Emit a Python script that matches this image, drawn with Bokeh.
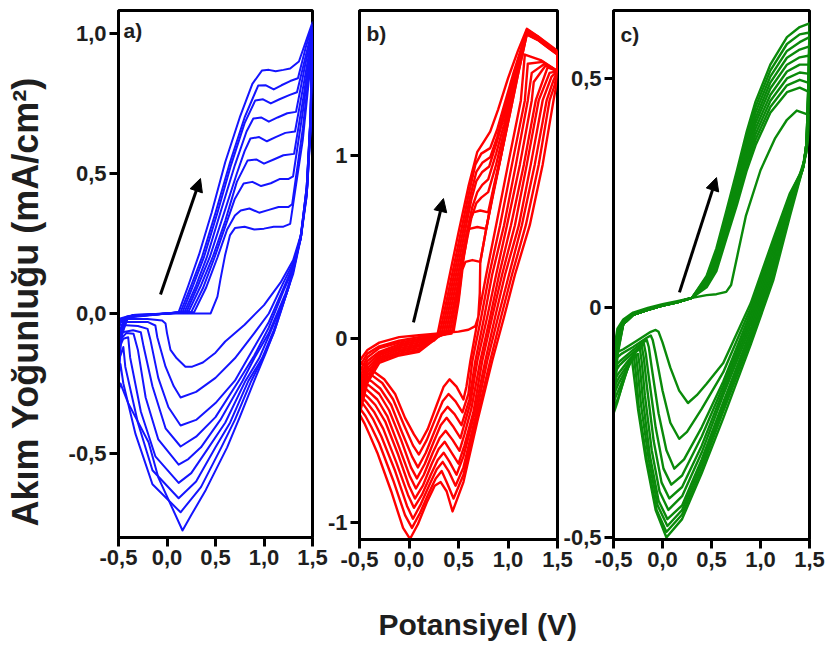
import math
from bokeh.plotting import figure
from bokeh.layouts import row
from bokeh.models import Range1d, FixedTicker, Label, Arrow, NormalHead, Title
from bokeh.embed import file_html
from bokeh.resources import INLINE

FONT = "Liberation Sans"

# ---- tick labels / texts ----
x_ticks = [-0.5, 0.0, 0.5, 1.0, 1.5]
x_tick_labels = ["-0,5", "0,0", "0,5", "1,0", "1,5"]
a_y_ticks = [-0.5, 0.0, 0.5, 1.0]
a_y_tick_labels = ["-0,5", "0,0", "0,5", "1,0"]
b_y_ticks = [-1.0, 0.0, 1.0]
b_y_tick_labels = ["-1", "0", "1"]
c_y_ticks = [-0.5, 0.0, 0.5]
c_y_tick_labels = ["-0,5", "0", "0,5"]
panel_letters = ["a)", "b)", "c)"]
y_title = "Akım Yoğunluğu (mA/cm²)"
x_title = "Potansiyel (V)"

# ---- panel a (blue): cycles of (potential V, current mA/cm2) ----
cv_a = [
    [(-0.5,-0.02),(-0.4,-0.01),(0.0,0.0),(0.45,0.0),(0.52,0.06),(0.55,0.12),(0.6,0.21),(0.65,0.28),(0.7,0.305),(0.8,0.31),(0.9,0.3),(1.0,0.303),(1.1,0.31),(1.2,0.31),(1.27,0.32),(1.4,0.62),(1.5,0.96),
     (1.48,0.65),(1.44,0.42),(1.38,0.28),(1.3,0.19),(1.17,0.11),(1.0,0.03),(0.8,-0.04),(0.6,-0.1),(0.5,-0.14),(0.37,-0.175),(0.26,-0.19),(0.19,-0.19),(0.1,-0.16),(0.036,-0.13),(0.0,-0.07),(-0.015,-0.036),(-0.05,-0.025),(-0.2,-0.02),(-0.5,-0.02)],
    [(-0.5,-0.03),(-0.42,-0.012),(0.0,0.0),(0.28,0.005),(0.4,0.09),(0.52,0.2),(0.62,0.3),(0.7,0.35),(0.76,0.368),(0.85,0.375),(0.95,0.36),(1.05,0.37),(1.15,0.38),(1.25,0.38),(1.29,0.39),(1.4,0.66),(1.5,0.97),
     (1.48,0.66),(1.44,0.42),(1.38,0.27),(1.3,0.18),(1.2,0.11),(1.05,0.0),(0.9,-0.07),(0.7,-0.16),(0.5,-0.23),(0.3,-0.28),(0.14,-0.3),(0.07,-0.26),(-0.015,-0.19),(-0.1,-0.085),(-0.12,-0.043),(-0.2,-0.03),(-0.5,-0.03)],
    [(-0.5,-0.04),(-0.42,-0.013),(0.0,0.0),(0.25,0.005),(0.37,0.09),(0.49,0.2),(0.6,0.31),(0.7,0.41),(0.79,0.464),(0.88,0.47),(0.97,0.455),(1.07,0.465),(1.16,0.48),(1.25,0.48),(1.3,0.49),(1.4,0.72),(1.5,0.98),
     (1.48,0.67),(1.44,0.43),(1.38,0.27),(1.3,0.17),(1.2,0.09),(1.05,-0.03),(0.9,-0.12),(0.7,-0.24),(0.5,-0.32),(0.3,-0.38),(0.14,-0.4),(0.015,-0.335),(-0.09,-0.23),(-0.17,-0.096),(-0.2,-0.055),(-0.3,-0.045),(-0.5,-0.04)],
    [(-0.5,-0.07),(-0.44,-0.02),(-0.35,-0.005),(0.0,0.0),(0.22,0.005),(0.35,0.1),(0.47,0.2),(0.6,0.33),(0.72,0.47),(0.83,0.546),(0.92,0.55),(1.0,0.535),(1.1,0.55),(1.2,0.565),(1.31,0.57),(1.41,0.78),(1.5,0.99),
     (1.48,0.68),(1.44,0.44),(1.38,0.27),(1.3,0.16),(1.2,0.08),(1.05,-0.05),(0.9,-0.15),(0.74,-0.24),(0.5,-0.37),(0.3,-0.44),(0.14,-0.475),(-0.015,-0.41),(-0.15,-0.26),(-0.24,-0.12),(-0.27,-0.067),(-0.35,-0.06),(-0.5,-0.07)],
    [(-0.5,-0.1),(-0.45,-0.03),(-0.35,-0.005),(0.0,0.0),(0.2,0.005),(0.32,0.1),(0.44,0.2),(0.58,0.35),(0.72,0.5),(0.8,0.58),(0.86,0.625),(0.95,0.63),(1.03,0.615),(1.12,0.63),(1.22,0.645),(1.32,0.65),(1.42,0.84),(1.5,1.0),
     (1.48,0.69),(1.44,0.44),(1.38,0.27),(1.3,0.15),(1.22,0.07),(1.05,-0.07),(0.9,-0.16),(0.78,-0.24),(0.55,-0.38),(0.35,-0.478),(0.22,-0.52),(0.12,-0.54),(-0.09,-0.45),(-0.22,-0.3),(-0.3,-0.13),(-0.345,-0.072),(-0.42,-0.07),(-0.5,-0.1)],
    [(-0.5,-0.13),(-0.46,-0.04),(-0.38,-0.008),(0.0,0.0),(0.18,0.005),(0.3,0.1),(0.41,0.2),(0.55,0.36),(0.7,0.53),(0.82,0.65),(0.89,0.696),(0.97,0.7),(1.05,0.685),(1.14,0.7),(1.24,0.715),(1.33,0.72),(1.42,0.88),(1.5,1.01),
     (1.48,0.7),(1.44,0.45),(1.38,0.27),(1.3,0.14),(1.23,0.07),(1.05,-0.08),(0.95,-0.16),(0.81,-0.24),(0.6,-0.39),(0.43,-0.478),(0.25,-0.57),(0.12,-0.605),(-0.12,-0.51),(-0.27,-0.35),(-0.38,-0.157),(-0.4,-0.085),(-0.45,-0.09),(-0.5,-0.13)],
    [(-0.5,-0.17),(-0.47,-0.06),(-0.4,-0.01),(0.0,0.0),(0.16,0.005),(0.27,0.1),(0.38,0.2),(0.52,0.36),(0.66,0.53),(0.8,0.68),(0.91,0.761),(0.99,0.765),(1.07,0.75),(1.16,0.765),(1.26,0.78),(1.34,0.79),(1.43,0.92),(1.5,1.02),
     (1.48,0.7),(1.44,0.45),(1.38,0.28),(1.3,0.15),(1.24,0.08),(1.1,-0.06),(0.98,-0.16),(0.84,-0.24),(0.65,-0.39),(0.5,-0.478),(0.3,-0.6),(0.12,-0.66),(-0.15,-0.56),(-0.3,-0.39),(-0.43,-0.19),(-0.45,-0.12),(-0.5,-0.17)],
    [(-0.5,-0.22),(-0.47,-0.08),(-0.4,-0.012),(0.0,0.0),(0.14,0.005),(0.25,0.1),(0.36,0.2),(0.5,0.36),(0.65,0.54),(0.8,0.7),(0.94,0.814),(1.02,0.815),(1.1,0.8),(1.18,0.815),(1.27,0.83),(1.35,0.84),(1.43,0.95),(1.5,1.03),
     (1.48,0.71),(1.44,0.45),(1.38,0.28),(1.3,0.16),(1.25,0.09),(1.1,-0.07),(1.0,-0.15),(0.87,-0.24),(0.7,-0.38),(0.56,-0.478),(0.35,-0.62),(0.14,-0.71),(-0.15,-0.61),(-0.325,-0.43),(-0.45,-0.25),(-0.48,-0.18),(-0.5,-0.22)],
    [(-0.5,-0.28),(-0.48,-0.1),(-0.42,-0.015),(0.0,0.0),(0.12,0.005),(0.22,0.1),(0.33,0.21),(0.46,0.36),(0.6,0.54),(0.75,0.7),(0.88,0.82),(0.98,0.868),(1.05,0.87),(1.12,0.865),(1.2,0.87),(1.27,0.875),(1.36,0.9),(1.44,0.98),(1.5,1.04),
     (1.48,0.72),(1.45,0.46),(1.38,0.28),(1.31,0.17),(1.26,0.1),(1.12,-0.05),(1.02,-0.14),(0.9,-0.24),(0.75,-0.37),(0.62,-0.478),(0.4,-0.63),(0.25,-0.72),(0.16,-0.775),(-0.09,-0.585),(-0.19,-0.46),(-0.4,-0.32),(-0.48,-0.25),(-0.5,-0.28)],
]

# ---- panel b (red) ----
cv_b = [
    [(-0.5,-0.12),(-0.42,-0.06),(-0.3,-0.02),(-0.1,0.01),(0.1,0.02),(0.3,0.03),(0.5,0.04),(0.6,0.05),(0.67,0.07),(0.7,0.12),(0.715,0.25),(0.72,0.42),(0.78,0.6),(0.85,0.8),(0.95,1.05),(1.02,1.23),(1.1,1.44),(1.19,1.66),(1.3,1.63),(1.4,1.59),(1.5,1.55),
     (1.5,1.46),(1.33,1.52),(1.17,1.55),(1.13,1.3),(1.0,0.95),(0.88,0.62),(0.78,0.35),(0.7,0.12),(0.62,-0.12),(0.58,-0.26),(0.55,-0.33),(0.48,-0.26),(0.41,-0.22),(0.35,-0.26),(0.28,-0.36),(0.19,-0.49),(0.11,-0.57),(0.05,-0.52),(-0.04,-0.43),(-0.14,-0.3),(-0.25,-0.22),(-0.35,-0.18),(-0.44,-0.15),(-0.5,-0.12)],
    [(-0.5,-0.15),(-0.42,-0.08),(-0.3,-0.04),(-0.1,-0.01),(0.1,0.01),(0.3,0.025),(0.45,0.04),(0.5,0.2),(0.54,0.38),(0.57,0.42),(0.64,0.43),(0.72,0.42),(0.78,0.6),(0.85,0.8),(0.95,1.05),(1.02,1.23),(1.1,1.44),(1.19,1.66),(1.3,1.63),(1.4,1.59),(1.5,1.55),
     (1.5,1.46),(1.35,1.51),(1.2,1.5),(1.17,1.3),(1.04,0.95),(0.92,0.62),(0.81,0.35),(0.73,0.12),(0.64,-0.12),(0.6,-0.3),(0.54,-0.4),(0.47,-0.34),(0.4,-0.3),(0.34,-0.34),(0.27,-0.43),(0.18,-0.55),(0.1,-0.63),(0.04,-0.58),(-0.05,-0.47),(-0.16,-0.33),(-0.27,-0.24),(-0.37,-0.2),(-0.45,-0.18),(-0.5,-0.15)],
    [(-0.5,-0.18),(-0.42,-0.1),(-0.3,-0.05),(-0.1,-0.02),(0.1,0.0),(0.3,0.02),(0.43,0.03),(0.5,0.22),(0.55,0.45),(0.58,0.57),(0.61,0.6),(0.69,0.61),(0.78,0.6),(0.84,0.76),(0.92,0.97),(1.0,1.2),(1.1,1.46),(1.19,1.67),(1.3,1.635),(1.4,1.595),(1.5,1.555),
     (1.5,1.46),(1.37,1.5),(1.24,1.45),(1.2,1.3),(1.08,0.95),(0.96,0.62),(0.84,0.35),(0.76,0.12),(0.67,-0.12),(0.61,-0.33),(0.53,-0.47),(0.46,-0.41),(0.39,-0.37),(0.33,-0.41),(0.26,-0.5),(0.17,-0.62),(0.09,-0.7),(0.03,-0.64),(-0.07,-0.51),(-0.18,-0.36),(-0.29,-0.27),(-0.38,-0.23),(-0.45,-0.21),(-0.5,-0.18)],
    [(-0.5,-0.21),(-0.42,-0.12),(-0.3,-0.07),(-0.1,-0.03),(0.1,-0.01),(0.3,0.02),(0.41,0.03),(0.5,0.27),(0.57,0.5),(0.61,0.64),(0.65,0.69),(0.72,0.7),(0.8,0.69),(0.86,0.84),(0.93,1.01),(1.0,1.19),(1.1,1.46),(1.19,1.67),(1.3,1.635),(1.4,1.595),(1.5,1.555),
     (1.5,1.46),(1.38,1.49),(1.26,1.4),(1.24,1.3),(1.12,0.95),(0.99,0.62),(0.88,0.35),(0.79,0.12),(0.69,-0.12),(0.62,-0.35),(0.52,-0.54),(0.45,-0.48),(0.38,-0.43),(0.32,-0.47),(0.25,-0.56),(0.16,-0.68),(0.08,-0.76),(0.02,-0.7),(-0.08,-0.55),(-0.2,-0.39),(-0.3,-0.3),(-0.39,-0.26),(-0.46,-0.23),(-0.5,-0.21)],
    [(-0.5,-0.24),(-0.42,-0.14),(-0.3,-0.08),(-0.1,-0.04),(0.1,-0.02),(0.28,0.01),(0.39,0.03),(0.48,0.26),(0.57,0.5),(0.63,0.66),(0.68,0.74),(0.73,0.77),(0.8,0.8),(0.88,0.95),(0.96,1.13),(1.05,1.36),(1.12,1.52),(1.19,1.675),(1.3,1.64),(1.4,1.6),(1.5,1.56),
     (1.5,1.46),(1.4,1.48),(1.28,1.3),(1.16,0.95),(1.03,0.62),(0.91,0.35),(0.82,0.12),(0.72,-0.12),(0.63,-0.38),(0.56,-0.52),(0.51,-0.61),(0.44,-0.55),(0.37,-0.5),(0.31,-0.54),(0.24,-0.62),(0.15,-0.74),(0.07,-0.815),(0.01,-0.75),(-0.1,-0.59),(-0.22,-0.42),(-0.32,-0.33),(-0.4,-0.29),(-0.46,-0.26),(-0.5,-0.24)],
    [(-0.5,-0.27),(-0.42,-0.16),(-0.3,-0.09),(-0.1,-0.05),(0.1,-0.03),(0.27,0.01),(0.37,0.03),(0.46,0.26),(0.56,0.52),(0.64,0.72),(0.69,0.8),(0.74,0.84),(0.8,0.87),(0.88,1.01),(0.96,1.17),(1.05,1.38),(1.12,1.53),(1.19,1.675),(1.3,1.64),(1.4,1.6),(1.5,1.56),
     (1.5,1.46),(1.42,1.45),(1.31,1.3),(1.19,0.95),(1.07,0.62),(0.94,0.35),(0.84,0.12),(0.74,-0.12),(0.65,-0.4),(0.56,-0.58),(0.5,-0.68),(0.43,-0.62),(0.36,-0.56),(0.3,-0.6),(0.23,-0.68),(0.14,-0.8),(0.06,-0.87),(0.0,-0.8),(-0.11,-0.63),(-0.24,-0.45),(-0.34,-0.36),(-0.41,-0.32),(-0.47,-0.29),(-0.5,-0.27)],
    [(-0.5,-0.3),(-0.42,-0.18),(-0.3,-0.1),(-0.1,-0.06),(0.1,-0.04),(0.26,0.0),(0.35,0.03),(0.44,0.26),(0.54,0.52),(0.63,0.76),(0.68,0.86),(0.74,0.91),(0.81,0.94),(0.88,1.06),(0.96,1.21),(1.05,1.4),(1.12,1.54),(1.19,1.68),(1.3,1.645),(1.4,1.6),(1.5,1.56),
     (1.5,1.46),(1.44,1.43),(1.35,1.3),(1.23,0.95),(1.11,0.62),(0.97,0.35),(0.87,0.12),(0.77,-0.12),(0.66,-0.41),(0.55,-0.64),(0.48,-0.74),(0.41,-0.67),(0.35,-0.62),(0.29,-0.66),(0.22,-0.74),(0.13,-0.85),(0.05,-0.92),(-0.01,-0.85),(-0.13,-0.67),(-0.26,-0.49),(-0.35,-0.4),(-0.42,-0.35),(-0.47,-0.32),(-0.5,-0.3)],
    [(-0.5,-0.33),(-0.42,-0.2),(-0.3,-0.11),(-0.1,-0.07),(0.1,-0.05),(0.25,-0.01),(0.33,0.03),(0.42,0.26),(0.52,0.52),(0.62,0.78),(0.68,0.91),(0.74,0.96),(0.82,0.99),(0.89,1.1),(0.97,1.26),(1.05,1.42),(1.12,1.55),(1.19,1.68),(1.3,1.645),(1.4,1.605),(1.5,1.565),
     (1.5,1.46),(1.46,1.41),(1.39,1.3),(1.27,0.95),(1.14,0.62),(1.01,0.35),(0.9,0.12),(0.79,-0.12),(0.67,-0.43),(0.55,-0.7),(0.47,-0.8),(0.4,-0.72),(0.34,-0.67),(0.28,-0.71),(0.21,-0.79),(0.12,-0.9),(0.04,-0.98),(-0.02,-0.91),(-0.14,-0.72),(-0.28,-0.53),(-0.36,-0.44),(-0.43,-0.38),(-0.47,-0.35),(-0.5,-0.33)],
    [(-0.5,-0.37),(-0.42,-0.22),(-0.3,-0.12),(-0.1,-0.08),(0.1,-0.06),(0.24,-0.01),(0.31,0.03),(0.4,0.26),(0.5,0.52),(0.6,0.78),(0.67,0.95),(0.73,1.01),(0.82,1.04),(0.89,1.14),(0.97,1.29),(1.05,1.44),(1.12,1.56),(1.19,1.685),(1.3,1.65),(1.4,1.605),(1.5,1.565),
     (1.5,1.46),(1.47,1.38),(1.42,1.3),(1.31,0.95),(1.18,0.62),(1.04,0.35),(0.93,0.12),(0.82,-0.12),(0.68,-0.44),(0.55,-0.74),(0.45,-0.87),(0.38,-0.78),(0.33,-0.72),(0.27,-0.76),(0.2,-0.84),(0.11,-0.95),(0.03,-1.03),(-0.04,-0.96),(-0.16,-0.77),(-0.3,-0.57),(-0.38,-0.48),(-0.44,-0.42),(-0.48,-0.39),(-0.5,-0.37)],
    [(-0.5,-0.41),(-0.42,-0.24),(-0.3,-0.13),(-0.1,-0.09),(0.1,-0.07),(0.22,-0.02),(0.29,0.03),(0.4,0.32),(0.5,0.58),(0.6,0.83),(0.69,1.02),(0.75,1.07),(0.82,1.13),(0.9,1.25),(1.0,1.42),(1.1,1.57),(1.19,1.69),(1.3,1.65),(1.4,1.61),(1.5,1.57),
     (1.5,1.46),(1.48,1.36),(1.46,1.3),(1.35,0.95),(1.22,0.62),(1.07,0.35),(0.96,0.12),(0.84,-0.12),(0.69,-0.45),(0.55,-0.78),(0.44,-0.94),(0.38,-0.83),(0.32,-0.78),(0.26,-0.8),(0.18,-0.89),(0.09,-1.01),(0.01,-1.09),(-0.06,-1.03),(-0.18,-0.83),(-0.32,-0.62),(-0.4,-0.52),(-0.45,-0.46),(-0.48,-0.43),(-0.5,-0.41)],
]

# ---- panel c (green) ----
cv_c = [
    [(-0.5,-0.1),(-0.46,-0.045),(-0.4,-0.025),(-0.3,-0.01),(-0.15,0.0),(0.0,0.008),(0.15,0.015),(0.3,0.022),(0.45,0.028),(0.55,0.03),(0.65,0.035),(0.7,0.05),(0.77,0.12),(0.85,0.2),(1.0,0.3),(1.15,0.37),(1.27,0.41),(1.37,0.43),(1.5,0.42),
     (1.49,0.38),(1.46,0.33),(1.4,0.29),(1.3,0.25),(1.13,0.15),(0.9,0.01),(0.62,-0.12),(0.45,-0.165),(0.35,-0.19),(0.26,-0.207),(0.17,-0.18),(0.08,-0.13),(0.0,-0.075),(-0.04,-0.052),(-0.07,-0.048),(-0.12,-0.052),(-0.25,-0.07),(-0.4,-0.09),(-0.5,-0.1)],
    [(-0.5,-0.115),(-0.46,-0.052),(-0.4,-0.03),(-0.3,-0.012),(-0.15,-0.002),(0.0,0.006),(0.15,0.013),(0.3,0.022),(0.45,0.045),(0.55,0.08),(0.65,0.15),(0.76,0.225),(0.86,0.3),(0.95,0.355),(1.1,0.425),(1.27,0.47),(1.4,0.48),(1.5,0.47),
     (1.49,0.4),(1.47,0.34),(1.42,0.3),(1.3,0.245),(1.13,0.14),(0.9,0.0),(0.62,-0.14),(0.4,-0.22),(0.25,-0.27),(0.17,-0.285),(0.08,-0.25),(0.0,-0.18),(-0.07,-0.1),(-0.1,-0.07),(-0.12,-0.06),(-0.16,-0.065),(-0.3,-0.085),(-0.42,-0.1),(-0.5,-0.115)],
    [(-0.5,-0.13),(-0.46,-0.058),(-0.4,-0.035),(-0.3,-0.015),(-0.15,-0.004),(0.0,0.005),(0.15,0.012),(0.3,0.022),(0.45,0.048),(0.55,0.086),(0.65,0.158),(0.76,0.234),(0.86,0.311),(0.95,0.367),(1.1,0.438),(1.27,0.485),(1.4,0.497),(1.5,0.49),
     (1.49,0.43),(1.47,0.35),(1.43,0.3),(1.3,0.24),(1.13,0.13),(0.9,-0.01),(0.62,-0.16),(0.4,-0.26),(0.22,-0.33),(0.12,-0.35),(0.04,-0.31),(-0.04,-0.23),(-0.11,-0.13),(-0.14,-0.085),(-0.16,-0.07),(-0.2,-0.075),(-0.32,-0.095),(-0.43,-0.115),(-0.5,-0.13)],
    [(-0.5,-0.145),(-0.46,-0.065),(-0.4,-0.035),(-0.3,-0.015),(-0.15,-0.004),(0.0,0.005),(0.15,0.012),(0.3,0.022),(0.45,0.051),(0.55,0.093),(0.65,0.165),(0.76,0.244),(0.86,0.321),(0.95,0.379),(1.1,0.451),(1.27,0.5),(1.4,0.513),(1.5,0.51),
     (1.49,0.44),(1.47,0.355),(1.43,0.305),(1.3,0.235),(1.13,0.12),(0.9,-0.02),(0.62,-0.17),(0.4,-0.28),(0.2,-0.365),(0.09,-0.385),(0.01,-0.35),(-0.07,-0.26),(-0.14,-0.15),(-0.17,-0.1),(-0.19,-0.078),(-0.23,-0.085),(-0.34,-0.105),(-0.44,-0.125),(-0.5,-0.145)],
    [(-0.5,-0.16),(-0.46,-0.072),(-0.4,-0.035),(-0.3,-0.015),(-0.15,-0.004),(0.0,0.005),(0.15,0.012),(0.3,0.022),(0.45,0.054),(0.55,0.099),(0.65,0.173),(0.76,0.253),(0.86,0.332),(0.95,0.391),(1.1,0.464),(1.27,0.515),(1.4,0.53),(1.5,0.53),
     (1.49,0.46),(1.47,0.355),(1.44,0.31),(1.3,0.23),(1.13,0.11),(0.9,-0.03),(0.62,-0.18),(0.4,-0.3),(0.2,-0.39),(0.07,-0.415),(-0.01,-0.38),(-0.09,-0.29),(-0.16,-0.17),(-0.19,-0.11),(-0.21,-0.085),(-0.25,-0.09),(-0.35,-0.115),(-0.44,-0.14),(-0.5,-0.16)],
    [(-0.5,-0.175),(-0.46,-0.079),(-0.4,-0.035),(-0.3,-0.015),(-0.15,-0.004),(0.0,0.005),(0.15,0.012),(0.3,0.022),(0.45,0.058),(0.55,0.105),(0.65,0.18),(0.76,0.263),(0.86,0.343),(0.95,0.403),(1.1,0.478),(1.27,0.53),(1.4,0.546),(1.5,0.55),
     (1.49,0.47),(1.47,0.36),(1.44,0.31),(1.3,0.225),(1.13,0.1),(0.9,-0.04),(0.62,-0.19),(0.4,-0.315),(0.2,-0.41),(0.06,-0.44),(-0.03,-0.4),(-0.11,-0.31),(-0.18,-0.19),(-0.21,-0.12),(-0.23,-0.09),(-0.27,-0.095),(-0.36,-0.125),(-0.44,-0.15),(-0.5,-0.175)],
    [(-0.5,-0.19),(-0.46,-0.086),(-0.4,-0.035),(-0.3,-0.015),(-0.15,-0.004),(0.0,0.005),(0.15,0.012),(0.3,0.022),(0.45,0.061),(0.55,0.111),(0.65,0.188),(0.76,0.272),(0.86,0.353),(0.95,0.414),(1.1,0.491),(1.27,0.545),(1.4,0.563),(1.5,0.57),
     (1.49,0.48),(1.47,0.36),(1.44,0.31),(1.3,0.22),(1.13,0.09),(0.9,-0.05),(0.62,-0.205),(0.4,-0.33),(0.2,-0.43),(0.05,-0.46),(-0.04,-0.42),(-0.13,-0.32),(-0.2,-0.2),(-0.23,-0.13),(-0.25,-0.1),(-0.29,-0.105),(-0.37,-0.135),(-0.45,-0.165),(-0.5,-0.19)],
    [(-0.5,-0.205),(-0.46,-0.092),(-0.4,-0.035),(-0.3,-0.015),(-0.15,-0.004),(0.0,0.005),(0.15,0.012),(0.3,0.022),(0.45,0.064),(0.55,0.118),(0.65,0.195),(0.76,0.281),(0.86,0.364),(0.95,0.426),(1.1,0.504),(1.27,0.56),(1.4,0.579),(1.5,0.59),
     (1.49,0.49),(1.47,0.36),(1.44,0.31),(1.3,0.215),(1.13,0.08),(0.9,-0.06),(0.62,-0.215),(0.4,-0.34),(0.2,-0.44),(0.05,-0.475),(-0.05,-0.43),(-0.14,-0.33),(-0.22,-0.21),(-0.25,-0.14),(-0.27,-0.105),(-0.31,-0.11),(-0.38,-0.145),(-0.45,-0.18),(-0.5,-0.205)],
    [(-0.5,-0.22),(-0.46,-0.099),(-0.4,-0.035),(-0.3,-0.015),(-0.15,-0.004),(0.0,0.005),(0.15,0.012),(0.3,0.022),(0.45,0.067),(0.55,0.124),(0.65,0.203),(0.76,0.291),(0.86,0.374),(0.95,0.438),(1.1,0.517),(1.27,0.575),(1.4,0.596),(1.5,0.6),
     (1.49,0.5),(1.47,0.36),(1.44,0.31),(1.3,0.21),(1.13,0.07),(0.9,-0.07),(0.62,-0.225),(0.4,-0.35),(0.2,-0.45),(0.04,-0.488),(-0.06,-0.44),(-0.16,-0.33),(-0.24,-0.22),(-0.27,-0.145),(-0.29,-0.11),(-0.33,-0.115),(-0.39,-0.155),(-0.45,-0.195),(-0.5,-0.22)],
    [(-0.5,-0.23),(-0.46,-0.104),(-0.4,-0.035),(-0.3,-0.015),(-0.15,-0.004),(0.0,0.005),(0.15,0.012),(0.3,0.022),(0.45,0.07),(0.55,0.13),(0.65,0.21),(0.76,0.3),(0.86,0.385),(0.95,0.45),(1.1,0.53),(1.27,0.59),(1.4,0.612),(1.5,0.62),
     (1.49,0.5),(1.47,0.36),(1.44,0.31),(1.3,0.2),(1.13,0.06),(0.9,-0.08),(0.62,-0.24),(0.4,-0.36),(0.2,-0.46),(0.04,-0.5),(-0.07,-0.44),(-0.17,-0.33),(-0.25,-0.22),(-0.29,-0.15),(-0.31,-0.115),(-0.34,-0.12),(-0.4,-0.16),(-0.46,-0.205),(-0.5,-0.23)],
]


def style_axis(ax, ticks, labels):
    ax.ticker = FixedTicker(ticks=ticks)
    ax.major_label_overrides = {float(t): s for t, s in zip(ticks, labels)}
    ax.major_label_text_font = FONT
    ax.major_label_text_font_style = "bold"
    ax.major_label_text_font_size = "22px"
    ax.major_label_text_color = "#1e1e1e"
    ax.axis_line_width = 3
    ax.axis_line_color = "black"
    ax.major_tick_line_width = 3
    ax.major_tick_line_color = "black"
    ax.major_tick_out = 9
    ax.major_tick_in = 0
    ax.minor_tick_line_color = None
    ax.major_label_standoff = 3


def make_panel(cycles, color, lw, y_lo, y_hi, yticks, ylabels, fw, fh, bl, br, bt, bb, margin):
    p = figure(width=bl + fw + br, height=bt + fh + bb, frame_width=fw, frame_height=fh,
               x_range=Range1d(-0.5, 1.5), y_range=Range1d(y_lo, y_hi),
               toolbar_location=None, output_backend="svg", title=None,
               min_border_left=bl, min_border_right=br, min_border_top=bt, min_border_bottom=bb)
    p.margin = margin
    p.border_fill_color = None
    p.background_fill_color = None
    p.outline_line_color = "black"
    p.outline_line_width = 3
    p.xgrid.visible = False
    p.ygrid.visible = False
    xs = [[pt[0] for pt in c] for c in cycles]
    ys = [[pt[1] for pt in c] for c in cycles]
    p.multi_line(xs, ys, line_color=color, line_width=lw, line_join="round")
    style_axis(p.xaxis[0], x_ticks, x_tick_labels)
    style_axis(p.yaxis[0], yticks, ylabels)
    return p


def add_arrow(p, x0, y0, x1, y1):
    p.add_layout(Arrow(end=NormalHead(size=13, fill_color="black", line_color="black"),
                       x_start=x0, y_start=y0, x_end=x1, y_end=y1,
                       line_color="black", line_width=3))


def add_letter(p, x, y, txt):
    p.add_layout(Label(x=x, y=y, text=txt, text_font=FONT, text_font_style="bold",
                       text_font_size="21px", text_color="#1e1e1e",
                       text_align="left", text_baseline="middle"))


# panel a: left border holds the rotated title; canvas pulled left so the frame sits at x=118
pa = make_panel(cv_a, "#1414FF", 2, -0.8, 1.082, a_y_ticks, a_y_tick_labels,
                194, 527, 137, 18, 10, 110, (0, 0, 0, -19))
pb = make_panel(cv_b, "#FF0000", 2.4, -1.093, 1.790, b_y_ticks, b_y_tick_labels,
                198, 529, 41, 40, 8, 149, (0, 0, -39, -12))
pc = make_panel(cv_c, "#0A8A0A", 2.4, -0.5044, 0.648, c_y_ticks, c_y_tick_labels,
                196, 529, 49, 22, 3, 115, (0, 0, 0, -37))

add_arrow(pa, -0.067, 0.068, 0.345, 0.482)
add_arrow(pb, 0.045, 0.090, 0.348, 0.765)
add_arrow(pc, 0.173, 0.034, 0.551, 0.284)

add_letter(pa, -0.448, 1.011, panel_letters[0])
add_letter(pb, -0.429, 1.665, panel_letters[1])
add_letter(pc, -0.429, 0.596, panel_letters[2])

pa.add_layout(Title(text=y_title, align="left", offset=11, standoff=40,
                    text_font=FONT, text_font_style="bold", text_font_size="36px",
                    text_color="#1e1e1e"), "left")
pb.add_layout(Title(text=x_title, align="left", offset=19, standoff=72,
                    text_font=FONT, text_font_style="bold", text_font_size="30px",
                    text_color="#1e1e1e"), "below")

layout = row(pa, pb, pc)
open("out.html", "w").write(file_html(layout, INLINE))
